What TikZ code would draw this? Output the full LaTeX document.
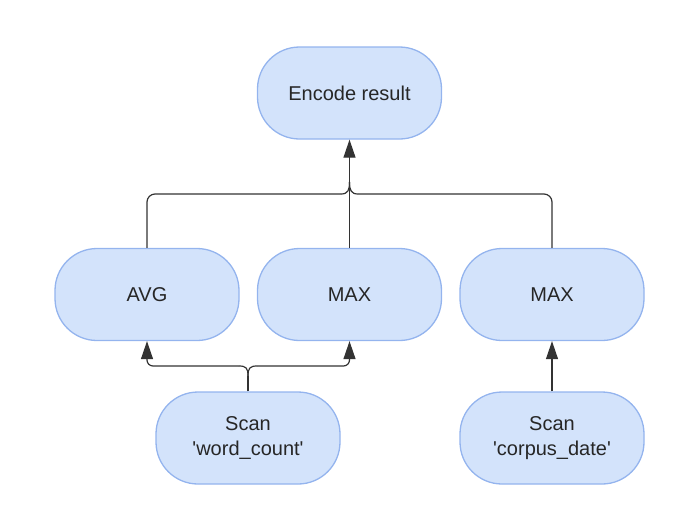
\documentclass[tikz,border=0pt]{standalone}
\usepackage{fontspec}
\setmainfont{Liberation Sans}
\usetikzlibrary{arrows.meta}
\definecolor{boxfill}{HTML}{D3E3FB}
\definecolor{boxline}{HTML}{94B4EE}
\definecolor{wire}{HTML}{333333}
\begin{document}
\begin{tikzpicture}[x=1pt,y=-1pt,
  opbox/.style={draw=boxline, fill=boxfill, line width=1.3pt, rectangle,
    rounded corners=42pt, minimum width=184pt, minimum height=92pt,
    align=center, font=\fontsize{20}{25}\selectfont, text=black!85, inner sep=0pt},
  wireline/.style={draw=wire, line width=1.2pt},
  arr/.style={wireline, -{Triangle[length=18pt,width=12pt]}}]
\useasboundingbox (0,0) rectangle (700,531);
\node[opbox] (enc) at (349.5,93) {Encode result};
\node[opbox] (avg) at (147,294.5) {AVG};
\node[opbox] (max1) at (349.5,294.5) {MAX};
\node[opbox] (max2) at (552,294.5) {MAX};
\node[opbox] (scanw) at (248,438) {Scan\\\textquotesingle word\_count\textquotesingle};
\node[opbox] (scanc) at (552,438) {Scan\\\textquotesingle corpus\_date\textquotesingle};
% upper junction
\coordinate (jt) at (349.5,182);
\draw[arr] (max1.north) -- (enc.south);
\draw[wireline, rounded corners=8pt] (avg.north) |- (341,194);
\draw[wireline] (341,194) .. controls (348,194) and (349.5,190) .. (jt);
\draw[wireline, rounded corners=8pt] (max2.north) |- (358,194);
\draw[wireline] (358,194) .. controls (351,194) and (349.5,190) .. (jt);
% lower junction
\coordinate (jb) at (248,376);
\draw[wireline] (scanw.north) -- (jb);
\draw[wireline] (jb) .. controls (248,368) and (246,366) .. (239,366);
\draw[wireline] (jb) .. controls (248,368) and (250,366) .. (257,366);
\draw[arr, rounded corners=6pt] (239,366) -| (avg.south);
\draw[arr, rounded corners=6pt] (257,366) -| (max1.south);
\draw[arr] (scanc.north) -- (max2.south);
\end{tikzpicture}
\end{document}
